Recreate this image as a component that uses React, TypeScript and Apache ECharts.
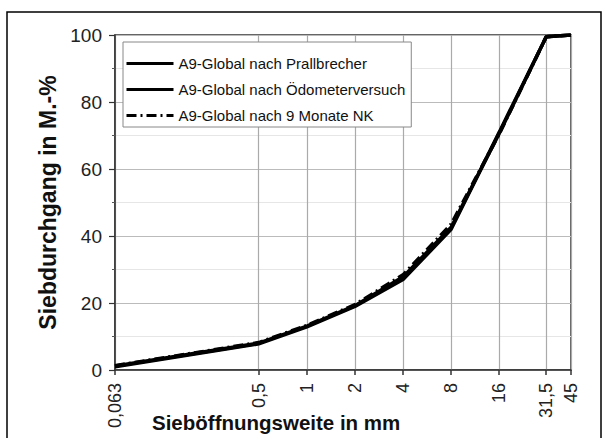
import React, { useEffect, useRef } from "react";
import * as echarts from "echarts";

const sieveSizes = [0.063, 0.5, 1, 2, 4, 8, 16, 31.5, 45];
const xTickValues = [0.063, 0.5, 1, 2, 4, 8, 16, 31.5, 45];
const xTickLabels = ["0,063", "0,5", "1", "2", "4", "8", "16", "31,5", "45"];
const seriesNames = [
  "A9-Global nach Prallbrecher",
  "A9-Global nach Ödometerversuch",
  "A9-Global nach 9 Monate NK",
];
const prallbrecher = [1, 7.8, 12.9, 19, 27, 42, 71, 99.5, 100];
const oedometer = [1.2, 8, 13.1, 19.2, 27.8, 42.6, 70.6, 99.5, 100];
const neunMonate = [1.3, 8.2, 13.3, 19.5, 28.4, 43.5, 70.5, 99.5, 100];

const FONT = '"Liberation Sans", Arial, sans-serif';

export default function App() {
  const ref = useRef<HTMLDivElement>(null);
  useEffect(() => {
    document.body.style.margin = "0";
    const chart = echarts.init(ref.current as HTMLDivElement, null, { renderer: "svg" });
    const mk = (vals: number[]) => sieveSizes.map((s, i) => [s, vals[i]]);
    const lineTypes: any[] = ["solid", "solid", [10, 4, 2, 4]];
    const allVals = [prallbrecher, oedometer, neunMonate];
    chart.setOption({
      animation: false,
      textStyle: { fontFamily: FONT },
      grid: {
        left: 115,
        right: 37,
        top: 35,
        bottom: 68,
        show: true,
        borderColor: "#333",
        borderWidth: 1.5,
        backgroundColor: "transparent",
      },
      legend: {
        left: 123,
        top: 42,
        orient: "vertical",
        padding: [14, 6, 4, 2],
        itemWidth: 47,
        itemHeight: 14,
        itemGap: 11,
        borderColor: "#888",
        borderWidth: 1,
        backgroundColor: "#fff",
        textStyle: { fontSize: 15, color: "#111", fontFamily: FONT },
        lineStyle: { width: 3 },
        itemStyle: { color: "transparent", borderWidth: 0, opacity: 0 },
        data: seriesNames,
      },
      xAxis: {
        type: "log",
        logBase: 10,
        min: 0.063,
        max: 45,
        axisLine: { show: true, lineStyle: { color: "#333", width: 1.5 } },
        axisTick: {
          show: true,
          inside: false,
          length: 5,
          customValues: xTickValues,
          lineStyle: { color: "#333", width: 1.5 },
        },
        axisLabel: {
          customValues: xTickValues,
          rotate: 90,
          margin: 13,
          fontSize: 18,
          color: "#222",
          fontFamily: FONT,
          formatter: (v: number) => {
            let best = 0;
            xTickValues.forEach((t, i) => {
              if (Math.abs(Math.log(t) - Math.log(v)) < Math.abs(Math.log(xTickValues[best]) - Math.log(v))) best = i;
            });
            return xTickLabels[best];
          },
        },
        splitLine: { show: true, lineStyle: { color: "#aaa", width: 1.2 } },
        minorTick: { show: false },
        minorSplitLine: { show: false },
      },
      yAxis: {
        type: "value",
        min: 0,
        max: 100,
        interval: 20,
        name: "Siebdurchgang in M.-%",
        nameLocation: "middle",
        nameGap: 52,
        nameTextStyle: { fontSize: 23, fontWeight: "bold", color: "#111", fontFamily: FONT },
        axisLine: { show: true, lineStyle: { color: "#333", width: 1.5 } },
        axisTick: { show: true, inside: false, length: 6, lineStyle: { color: "#333", width: 1.2 } },
        minorTick: { show: true, splitNumber: 2, length: 3, lineStyle: { color: "#555" } },
        axisLabel: { margin: 13, fontSize: 19, color: "#222", fontFamily: FONT },
        splitLine: { show: true, lineStyle: { color: "#bbb", width: 1.2 } },
        minorSplitLine: { show: true, lineStyle: { color: "#e6e6e6", width: 1 } },
      },
      graphic: [
        {
          type: "rect",
          shape: { x: 7, y: 12, width: 594, height: 440 },
          style: { fill: "none", stroke: "#000", lineWidth: 1.5 },
          silent: true,
          z: 100,
        },
        {
          type: "text",
          left: 152,
          top: 412,
          style: {
            text: "Sieböffnungsweite in mm",
            font: 'bold 20.5px "Liberation Sans", Arial, sans-serif',
            fill: "#111",
          },
        },
      ],
      series: seriesNames.map((name, i) => ({
        name,
        type: "line",
        symbol: "none",
        showSymbol: false,
        data: mk(allVals[i]),
        lineStyle: { color: "#000", width: 3.5, type: lineTypes[i] },
        itemStyle: { color: "#000" },
        z: 3 + i,
      })),
    });
    return () => chart.dispose();
  }, []);
  return <div ref={ref} style={{ width: 608, height: 438 }} />;
}
